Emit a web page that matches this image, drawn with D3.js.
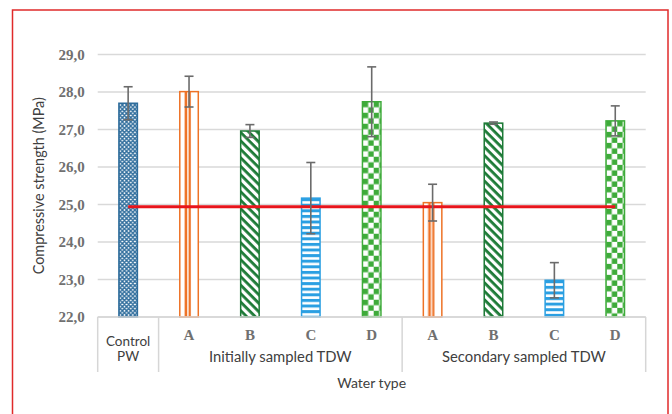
<!DOCTYPE html>
<html><head><meta charset="utf-8">
<script src="https://cdn.jsdelivr.net/npm/d3@7"></script>
<style>
html,body{margin:0;padding:0;background:#fff;}
svg{display:block;}
</style></head>
<body>
<svg id="chart" width="672" height="414"></svg>
<script>
// ---- data ----
const categories = ["Control PW","A","B","C","D","A","B","C","D"];
const groups = [
  {label:"Control PW", from:0, to:0},
  {label:"Initially sampled TDW", from:1, to:4},
  {label:"Secondary sampled TDW", from:5, to:8}
];
const values = [27.70, 28.01, 26.96, 25.17, 27.74, 25.05, 27.17, 22.98, 27.23];
const errors = [0.44, 0.41, 0.17, 0.95, 0.93, 0.49, 0.03, 0.47, 0.40];
const patterns = ["lattice","vstripe","diag","hstripe","check","vstripe","diag","hstripe","check"];
const referenceValue = 24.94;
const yTicks = [22,23,24,25,26,27,28,29];
const yTitle = "Compressive strength (MPa)";
const xTitle = "Water type";

// ---- layout ----
const svg = d3.select("#chart");
const L = 97.7, R = 645.7, T = 54.5, B = 317;
const x = d3.scaleBand().domain(d3.range(categories.length)).range([L, R]).paddingInner(0).paddingOuter(0);
const y = d3.scaleLinear().domain([22, 29]).range([B, T]);
const barW = 20;

const colors = {
  lattice: "#2f6d9c",
  vstripe: "#ee7226",
  diag: "#1c7a36",
  hstripe: "#2a9fe2",
  check: "#3eab3a"
};

// frame
svg.append("rect").attr("x", 12.5).attr("y", 10).attr("width", 655.5).attr("height", 420)
  .attr("fill", "none").attr("stroke", "#e02a2a").attr("stroke-width", 1.5);

// patterns (one per bar, aligned to bar x)
const defs = svg.append("defs");
values.forEach((v, i) => {
  const kind = patterns[i], c = colors[kind];
  const bx = x(i) + x.bandwidth()/2 - barW/2;
  const id = "pat" + i;
  let p;
  if (kind === "lattice") {
    p = defs.append("pattern").attr("id", id).attr("patternUnits", "userSpaceOnUse")
      .attr("x", bx).attr("y", 0).attr("width", 4.2).attr("height", 4.2);
    p.append("rect").attr("width", 4.2).attr("height", 4.2).attr("fill", "#fff");
    p.append("path").attr("d", "M-1,-1L5.2,5.2M-1,5.2L5.2,-1M-3,1.1L1.1,-3M3.1,5.3L5.3,3.1M-3,3.1L1.1,7.2M3.1,-1.1L5.3,1.1")
      .attr("stroke", c).attr("stroke-width", 1.35).attr("fill", "none");
  } else if (kind === "vstripe") {
    p = defs.append("pattern").attr("id", id).attr("patternUnits", "userSpaceOnUse")
      .attr("x", bx).attr("y", 0).attr("width", barW).attr("height", 10);
    p.append("rect").attr("width", barW).attr("height", 10).attr("fill", "#fff");
    p.append("rect").attr("x", 5.6).attr("width", 2.6).attr("height", 10).attr("fill", c);
    p.append("rect").attr("x", 9.6).attr("width", 2.2).attr("height", 10).attr("fill", c);
  } else if (kind === "diag") {
    p = defs.append("pattern").attr("id", id).attr("patternUnits", "userSpaceOnUse")
      .attr("x", bx).attr("y", 0).attr("width", 6).attr("height", 6)
      .attr("patternTransform", "rotate(45)");
    p.append("rect").attr("width", 6).attr("height", 6).attr("fill", "#fff");
    p.append("rect").attr("width", 6).attr("height", 2.8).attr("fill", c);
  } else if (kind === "hstripe") {
    p = defs.append("pattern").attr("id", id).attr("patternUnits", "userSpaceOnUse")
      .attr("x", 0).attr("y", y(values[i])).attr("width", 10).attr("height", 5.6);
    p.append("rect").attr("width", 10).attr("height", 5.6).attr("fill", "#fff");
    p.append("rect").attr("width", 10).attr("height", 3).attr("fill", c);
  } else if (kind === "check") {
    p = defs.append("pattern").attr("id", id).attr("patternUnits", "userSpaceOnUse")
      .attr("x", bx + 1).attr("y", y(values[i])).attr("width", 11).attr("height", 11);
    p.append("rect").attr("width", 11).attr("height", 11).attr("fill", "#fff");
    p.append("rect").attr("x", 0).attr("y", 0).attr("width", 5.5).attr("height", 5.5).attr("fill", c);
    p.append("rect").attr("x", 5.5).attr("y", 5.5).attr("width", 5.5).attr("height", 5.5).attr("fill", c);
  }
});

// gridlines
svg.append("g").selectAll("line").data(yTicks).join("line")
  .attr("x1", L).attr("x2", R).attr("y1", d => y(d)).attr("y2", d => y(d))
  .attr("stroke", "#d9d9d9").attr("stroke-width", 1.5);

// y axis labels
const yAxis = d3.axisLeft(y).tickValues(yTicks).tickSize(0).tickPadding(0)
  .tickFormat(d => d3.format(".1f")(d).replace(".", ","));
const ya = svg.append("g").attr("transform", `translate(${L - 13},0)`).call(yAxis);
ya.select(".domain").remove();
ya.selectAll("text").attr("font-family", "'Liberation Serif', 'DejaVu Serif', serif")
  .attr("font-size", 15).attr("font-weight", "bold").attr("fill", "#707070");

// bars
svg.append("g").selectAll("rect").data(values).join("rect")
  .attr("x", (d, i) => x(i) + x.bandwidth()/2 - barW/2 + 0.75)
  .attr("y", d => y(d))
  .attr("width", barW - 1.5)
  .attr("height", d => y(22) - y(d))
  .attr("fill", (d, i) => `url(#pat${i})`)
  .attr("stroke", (d, i) => colors[patterns[i]])
  .attr("stroke-width", 1.5);

// reference line
svg.append("line")
  .attr("x1", x(0) + x.bandwidth()/2).attr("x2", x(categories.length - 1) + x.bandwidth()/2)
  .attr("y1", y(referenceValue)).attr("y2", y(referenceValue))
  .attr("stroke", "#e8141b").attr("stroke-width", 2.8);

// error bars
const eg = svg.append("g").attr("stroke", "#6b6b6b").attr("stroke-width", 1.6);
values.forEach((v, i) => {
  const cx = x(i) + x.bandwidth()/2;
  const y1 = y(v + errors[i]), y2 = y(v - errors[i]);
  eg.append("line").attr("x1", cx).attr("x2", cx).attr("y1", y1).attr("y2", y2);
  eg.append("line").attr("x1", cx - 4.5).attr("x2", cx + 4.5).attr("y1", y1).attr("y2", y1);
  eg.append("line").attr("x1", cx - 4.5).attr("x2", cx + 4.5).attr("y1", y2).attr("y2", y2);
});

// multi-level category axis
const axG = svg.append("g").attr("stroke", "#d6d6d6").attr("stroke-width", 1.5);
axG.append("line").attr("x1", L).attr("x2", R).attr("y1", B).attr("y2", B);
const bounds = [L].concat(groups.map(g => x(g.to) + x.bandwidth()));
bounds.forEach(bx => {
  axG.append("line").attr("x1", bx).attr("x2", bx).attr("y1", B).attr("y2", 372);
});

const sans = "Lato, 'Open Sans', sans-serif";
// level-1 letters
svg.append("g").selectAll("text").data(categories.map((c, i) => ({c, i})).filter(d => d.i > 0)).join("text")
  .attr("x", d => x(d.i) + x.bandwidth()/2).attr("y", 339.5)
  .attr("text-anchor", "middle")
  .attr("font-family", "'Liberation Serif', 'DejaVu Serif', serif")
  .attr("font-size", 15).attr("font-weight", "bold").attr("fill", "#707070")
  .text(d => d.c);

// control label (two lines)
const ctl = categories[0].split(" ");
const ct = svg.append("text").attr("text-anchor", "middle")
  .attr("font-family", sans).attr("font-size", 13.5).attr("fill", "#404040");
ct.append("tspan").attr("x", x(0) + x.bandwidth()/2).attr("y", 345.5).text(ctl[0]);
ct.append("tspan").attr("x", x(0) + x.bandwidth()/2).attr("y", 361).text(ctl[1]);

// group labels
svg.append("g").selectAll("text").data(groups.slice(1)).join("text")
  .attr("x", g => (x(g.from) + x(g.to) + x.bandwidth())/2).attr("y", 361.5)
  .attr("text-anchor", "middle")
  .attr("font-family", sans).attr("font-size", 14.8).attr("fill", "#404040")
  .text(g => g.label);

// axis titles
svg.append("text").attr("x", (L + R)/2).attr("y", 388).attr("text-anchor", "middle")
  .attr("font-family", sans).attr("font-size", 14).attr("fill", "#404040").text(xTitle);
svg.append("text").attr("transform", `translate(44,${(T + B)/2}) rotate(-90)`)
  .attr("text-anchor", "middle")
  .attr("font-family", sans).attr("font-size", 14.4).attr("fill", "#404040").text(yTitle);
</script>
</body></html>
